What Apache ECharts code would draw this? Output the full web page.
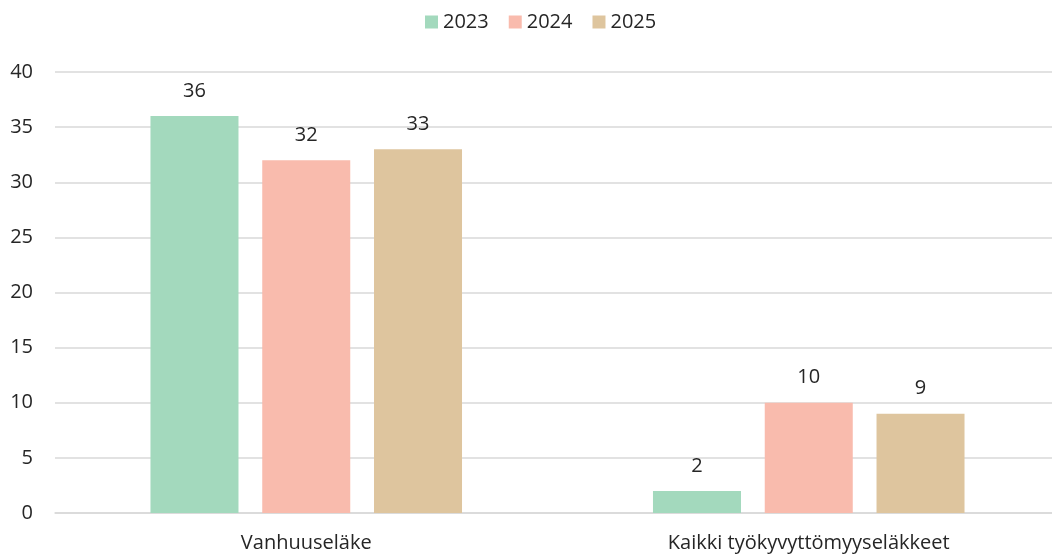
<!DOCTYPE html>
<html>
<head>
<meta charset="utf-8">
<script src="https://cdn.jsdelivr.net/npm/echarts@6/dist/echarts.min.js"></script>
<style>
  html, body { margin: 0; padding: 0; background: #fff; }
  #chart { width: 1052px; height: 556px; }
</style>
</head>
<body>
<div id="chart"></div>
<script>
const categories = ['Vanhuuseläke', 'Kaikki työkyvyttömyyseläkkeet']
const years = ['2023', '2024', '2025']
const values2023 = [36, 2]
const values2024 = [32, 10]
const values2025 = [33, 9]
const colors = ['#a3d9bd', '#f9bbad', '#dec59e']

const font = '"Open Sans", "Noto Sans", sans-serif'
const chart = echarts.init(document.getElementById('chart'))

const seriesData = [values2023, values2024, values2025]

chart.setOption({
  animation: false,
  textStyle: { fontFamily: font },
  legend: {
    top: 7,
    left: 420,
    itemWidth: 13,
    itemHeight: 13,
    itemGap: 20,
    icon: 'rect',
    textStyle: { fontSize: 20, color: '#262626', fontFamily: font },
    data: years
  },
  grid: { left: 55, right: -8, top: 72, bottom: 43, outerBoundsMode: 'none' },
  xAxis: {
    type: 'category',
    data: categories,
    axisTick: { show: false },
    axisLine: { lineStyle: { color: '#d9d9d9', width: 1.5 } },
    axisLabel: { fontSize: 20, color: '#262626', margin: 20, fontFamily: font }
  },
  yAxis: {
    type: 'value',
    min: 0,
    max: 40,
    interval: 5,
    axisLine: { show: false },
    axisTick: { show: false },
    axisLabel: { fontSize: 20, color: '#262626', margin: 22, fontFamily: font },
    splitLine: { lineStyle: { color: '#d9d9d9', width: 1.5 } }
  },
  series: years.map((y, i) => ({
    name: y,
    type: 'bar',
    data: seriesData[i],
    barGap: '27%',
    barCategoryGap: '38%',
    itemStyle: { color: colors[i] },
    label: {
      show: true,
      position: 'top',
      distance: 15,
      fontSize: 20,
      color: '#262626',
      fontFamily: font
    }
  }))
})
</script>
</body>
</html>
